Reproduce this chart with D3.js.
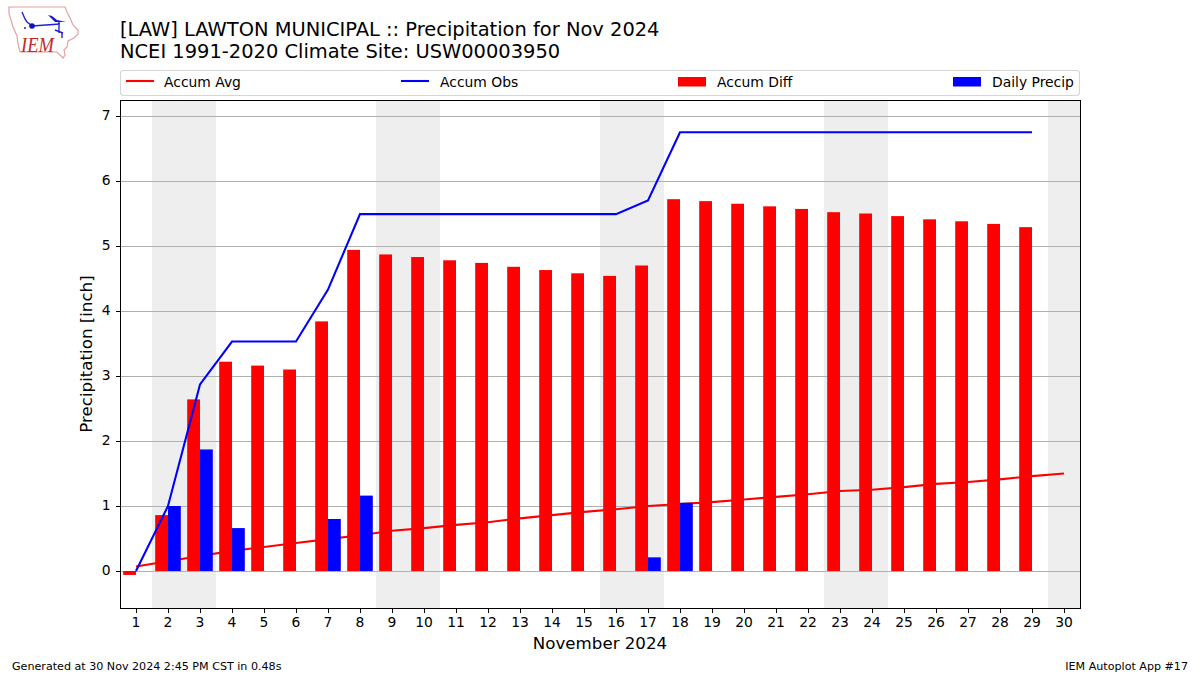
<!DOCTYPE html>
<html><head><meta charset="utf-8">
<script src="https://cdn.jsdelivr.net/npm/d3@7"></script>
<style>html,body{margin:0;background:#fff}svg{display:block}text{font-family:"DejaVu Sans",sans-serif;fill:#000}</style>
</head><body><svg id="c" width="1200" height="675"></svg>
<script>
const days = d3.range(1, 31);
const accumAvg = [0.07,0.15,0.23,0.31,0.37,0.43,0.49,0.55,0.62,0.66,0.71,0.75,0.81,0.86,0.91,0.95,1.00,1.03,1.06,1.10,1.14,1.18,1.23,1.25,1.29,1.34,1.37,1.41,1.46,1.50];
const accumObs = [0,1.0,2.87,3.53,3.53,3.53,4.33,5.49,5.49,5.49,5.49,5.49,5.49,5.49,5.49,5.49,5.70,6.75,6.75,6.75,6.75,6.75,6.75,6.75,6.75,6.75,6.75,6.75,6.75];
const accumDiff = [-0.06,0.86,2.64,3.22,3.16,3.10,3.84,4.94,4.87,4.83,4.78,4.74,4.68,4.63,4.58,4.54,4.70,5.72,5.69,5.65,5.61,5.57,5.52,5.50,5.46,5.41,5.38,5.34,5.29];
const dailyPrecip = [0,1.0,1.87,0.66,0,0,0.80,1.16,0,0,0,0,0,0,0,0,0.21,1.05,0,0,0,0,0,0,0,0,0,0,0];
const weekends = [[1.5,3.5],[8.5,10.5],[15.5,17.5],[22.5,24.5],[29.5,30.5]];
const yTicks = [0,1,2,3,4,5,6,7];
const legendItems = ["Accum Avg","Accum Obs","Accum Diff","Daily Precip"];
const titleLines = ["[LAW] LAWTON MUNICIPAL :: Precipitation for Nov 2024","NCEI 1991-2020 Climate Site: USW00003950"];

const svg = d3.select("#c");
const L=120.5,R=1080,T=100,B=608;
const x = d3.scaleLinear().domain([0.5,30.5]).range([120,1080]);
const y = d3.scaleLinear().domain([-0.5692,7.246]).range([608,100]);
const barW = x(1.4)-x(1);

// logo
const logo = svg.append("g");
logo.append("path").attr("d","M9 7 L65 7 L67 12 L70 18 L73 25 L78 30 L78 34 L74 38 L68 41 L67 47 L64 50 L65 55 L63 58 L60 55 L57 52 L20 52 L18 44 L17 36 L13 27 L11 20 L9 14 Z")
 .attr("fill","#fff").attr("stroke","#e6a0a0").attr("stroke-width",1.2);
logo.append("path").attr("d","M32 26 L60 24 M22 12 L25 19 L27 22 L31 25 M59 22 L59 33 M55 30 L63 33 M62 33 L62 38").attr("fill","none").attr("stroke","#2222cc").attr("stroke-width",1.4);
logo.append("path").attr("d","M48 15 L52 16 L57 20 L66 22 L55 22 Z").attr("fill","#1a1acc");
logo.append("circle").attr("cx",32).attr("cy",26).attr("r",2.8).attr("fill","#1111bb");
logo.append("circle").attr("cx",25).attr("cy",28).attr("r",1).attr("fill","#2222cc");
logo.append("text").attr("x",21).attr("y",52).attr("font-size",22).attr("font-style","italic").attr("textLength",33).attr("lengthAdjust","spacingAndGlyphs").style("font-family","'Liberation Serif',serif").style("fill","#c62828").text("IEM");

// titles
titleLines.forEach((t,i)=>svg.append("text").attr("x",120).attr("y",36+i*22).attr("font-size",19.44).text(t));

// plot
const g = svg.append("g");
g.selectAll("rect.w").data(weekends).join("rect").attr("class","w")
 .attr("x",d=>x(d[0])).attr("width",d=>x(d[1])-x(d[0])).attr("y",T).attr("height",B-T).attr("fill","#eeeeee");
g.selectAll("line.grid").data(yTicks).join("line").attr("class","grid")
 .attr("x1",L).attr("x2",R).attr("y1",d=>y(d)+0.5).attr("y2",d=>y(d)+0.5).attr("stroke","#b0b0b0").attr("stroke-width",1).attr("shape-rendering","crispEdges");

const line = d3.line().x((d,i)=>x(days[i])).y(d=>y(d));
g.append("path").datum(accumAvg).attr("d",line).attr("fill","none").attr("stroke","#f00").attr("stroke-width",2.08);
g.selectAll("rect.d").data(accumDiff).join("rect").attr("class","d")
 .attr("x",(d,i)=>x(days[i])-barW).attr("width",barW)
 .attr("y",d=>y(Math.max(d,0))).attr("height",d=>Math.abs(y(d)-y(0))).attr("fill","#f00");
g.selectAll("rect.p").data(dailyPrecip).join("rect").attr("class","p")
 .attr("x",(d,i)=>x(days[i])).attr("width",barW)
 .attr("y",d=>y(d)).attr("height",d=>y(0)-y(d)).attr("fill","#00f");
g.append("path").datum(accumObs).attr("d",line).attr("fill","none").attr("stroke","#00f").attr("stroke-width",2.08);

// axes
const ax = svg.append("g").attr("transform",`translate(0,${B})`).call(d3.axisBottom(x).tickValues(days).tickFormat(d3.format("d")).tickSize(4.9).tickPadding(4).offset(0));
const ay = svg.append("g").attr("transform",`translate(${L},0)`).call(d3.axisLeft(y).tickValues(yTicks).tickFormat(d3.format("d")).tickSize(4.9).tickPadding(5).offset(0));
[ax,ay].forEach(a=>{a.select(".domain").remove();a.selectAll("text").attr("font-size",13.89).style("font-family","'DejaVu Sans'");a.selectAll("line").attr("stroke","#000").attr("stroke-width",1).attr("shape-rendering","crispEdges");});
ax.selectAll("line").attr("x1",0.5).attr("x2",0.5);
ay.selectAll("line").attr("y1",0.5).attr("y2",0.5);
svg.append("rect").attr("x",L).attr("y",T).attr("width",R-L).attr("height",B-T).attr("fill","none").attr("stroke","#000").attr("stroke-width",1).attr("shape-rendering","crispEdges");

svg.append("text").attr("x",600).attr("y",649).attr("text-anchor","middle").attr("font-size",16.67).text("November 2024");
svg.append("text").attr("transform","translate(92,354) rotate(-90)").attr("text-anchor","middle").attr("font-size",16.67).text("Precipitation [inch]");

// legend
svg.append("rect").attr("x",120.5).attr("y",70.5).attr("width",959).attr("height",25).attr("rx",3).attr("fill","#fff").attr("stroke","#d6d6d6").attr("stroke-width",1.1);
const legX=[126,401,678,953], legTextX=[164,440,717,992], legC=["#f00","#00f","#f00","#00f"];
legendItems.forEach((t,i)=>{
  if(i<2) svg.append("line").attr("x1",legX[i]).attr("x2",legX[i]+28).attr("y1",81).attr("y2",81).attr("stroke",legC[i]).attr("stroke-width",2.08);
  else svg.append("rect").attr("x",legX[i]).attr("y",77).attr("width",28).attr("height",9.5).attr("fill",legC[i]);
  svg.append("text").attr("x",legTextX[i]).attr("y",86.5).attr("font-size",13.89).text(t);
});

// footer
svg.append("text").attr("x",12).attr("y",670).attr("font-size",11.11).text("Generated at 30 Nov 2024 2:45 PM CST in 0.48s");
svg.append("text").attr("x",1188).attr("y",670).attr("text-anchor","end").attr("font-size",11.11).text("IEM Autoplot App #17");
</script></body></html>
